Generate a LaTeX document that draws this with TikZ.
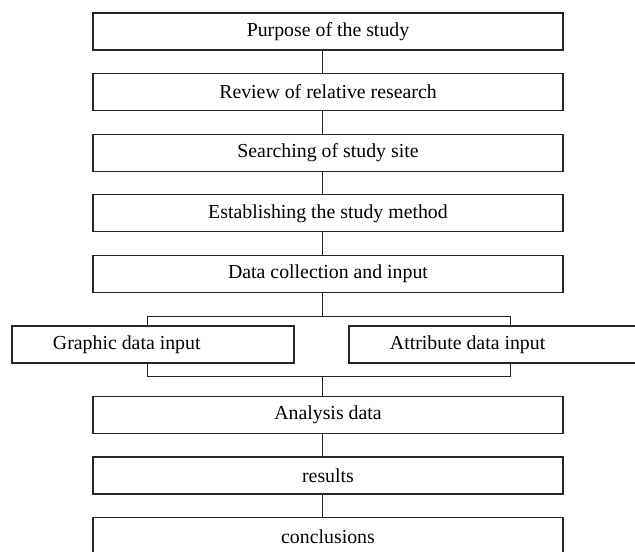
\documentclass[tikz,border=0pt]{standalone}
\usepackage{fontspec}
\setmainfont{Liberation Serif}
\usetikzlibrary{positioning}

\begin{document}
\begin{tikzpicture}[
        x=0.025cm, y=-0.025cm,
        node distance=0.59cm,
        stepbox/.style={rectangle, draw=black!85, line width=0.9pt, outer sep=0pt, minimum width=11.75cm, minimum height=0.925cm, inner sep=0pt, font=\fontsize{14.1}{17}\selectfont},
        halfbox/.style={stepbox, minimum width=0pt, inner xsep=1.025cm},
        link/.style={draw=black!85, line width=0.6pt}
        ]

        \useasboundingbox (0,0) rectangle (635,551);

        % main column
        \node[stepbox] (purpose) at (328,31.5) {Purpose of the study};
        \node[stepbox, below=of purpose] (review) {Review of relative research};
        \node[stepbox, below=of review] (site) {Searching of study site};
        \node[stepbox, below=of site] (method) {Establishing the study method};
        \node[stepbox, below=of method] (collect) {Data collection and input};

        % two inputs
        \node[halfbox] (graphic) at (153,344.5) {\makebox[5cm][l]{Graphic data input}};
        \node[halfbox] (attrib) at (497,344.5) {\makebox[5.35cm][l]{Attribute data input}};

        \node[stepbox] (analysis) at (328,415) {Analysis data};
        \node[stepbox, below=of analysis] (results) {results};
        \node[stepbox, below=of results] (concl) {conclusions};

        \foreach \a/\b in {purpose/review, review/site, site/method, method/collect, analysis/results, results/concl}
            \draw[link] ([xshift=-0.15cm]\a.south) -- ([xshift=-0.15cm]\b.north);

        % split and join
        \draw[link] ([xshift=-0.15cm]graphic.north) -- ++(0,0.25cm) coordinate (forkl) -| ([xshift=0.325cm]attrib.north);
        \draw[link] ([xshift=-0.15cm]collect.south) -- ([xshift=-0.15cm]collect.south |- forkl);
        \draw[link] ([xshift=-0.15cm]graphic.south) -- ++(0,-0.325cm) coordinate (joinl) -| ([xshift=0.325cm]attrib.south);
        \draw[link] ([xshift=-0.15cm]analysis.north) -- ([xshift=-0.15cm]analysis.north |- joinl);
    \end{tikzpicture}
\end{document}
